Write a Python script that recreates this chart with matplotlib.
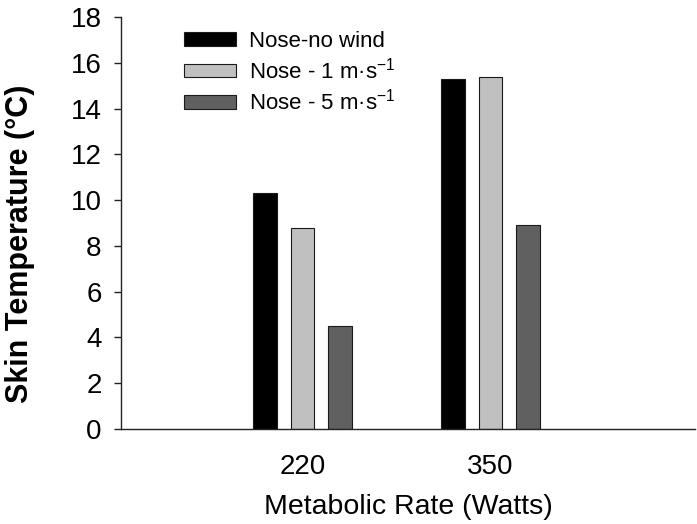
import matplotlib

matplotlib.use("Agg")
import matplotlib.pyplot as plt
import numpy as np

# --------------------------------------------------------------------- #
# Data
# --------------------------------------------------------------------- #
CATEGORIES = ["220", "350"]
SERIES_LABELS = [
    "Nose-no wind",
    "Nose - 1 m\u00b7s$^{-1}$",
    "Nose - 5 m\u00b7s$^{-1}$",
]
NO_WIND = [10.3, 15.3]
WIND_1 = [8.8, 15.4]
WIND_5 = [4.5, 8.9]
Y_TICKS = [0, 2, 4, 6, 8, 10, 12, 14, 16, 18]

COLORS = ["#000000", "#c0c0c0", "#606060"]

plt.rcParams["font.family"] = ["Liberation Sans", "DejaVu Sans"]
plt.rcParams["mathtext.default"] = "regular"

fig = plt.figure(figsize=(6.97, 5.24), dpi=100)
ax = fig.add_axes([121 / 697, 95 / 524, 574 / 697, 412 / 524])

x = np.arange(len(CATEGORIES))
width = 0.125
offsets = [-0.2, 0.0, 0.2]
for vals, off, col, lab in zip([NO_WIND, WIND_1, WIND_5], offsets, COLORS, SERIES_LABELS):
    ax.bar(x + off, vals, width, color=col, edgecolor="#1a1a1a",
           linewidth=0.8, label=lab)

ax.set_xlim(-0.965, 2.088)
ax.set_ylim(0, 18)
ax.set_yticks(Y_TICKS)
ax.set_xticks(x)
ax.set_xticklabels(CATEGORIES)

ax.spines["top"].set_visible(False)
ax.spines["right"].set_visible(False)
for s in ("left", "bottom"):
    ax.spines[s].set_linewidth(1.0)
    ax.spines[s].set_color("#222222")

ax.tick_params(axis="y", direction="out", length=5, width=1,
               labelsize=20, pad=9, color="#222222")
ax.tick_params(axis="x", length=0, labelsize=20, pad=18)

ax.set_xlabel("Metabolic Rate (Watts)", fontsize=20.5, labelpad=10)
ax.set_ylabel("Skin Temperature (\u00b0C)", fontsize=22, fontweight="bold")
ax.yaxis.set_label_coords(-0.15, 0.45)

ax.legend(loc="upper left", bbox_to_anchor=(184 / 697, 1 - 31 / 524),
          bbox_transform=fig.transFigure, frameon=False, fontsize=16,
          handlelength=2.34, handleheight=0.55, handletextpad=0.6,
          labelspacing=0.25, borderpad=0, borderaxespad=0)

fig.savefig("out.png", dpi=100)
